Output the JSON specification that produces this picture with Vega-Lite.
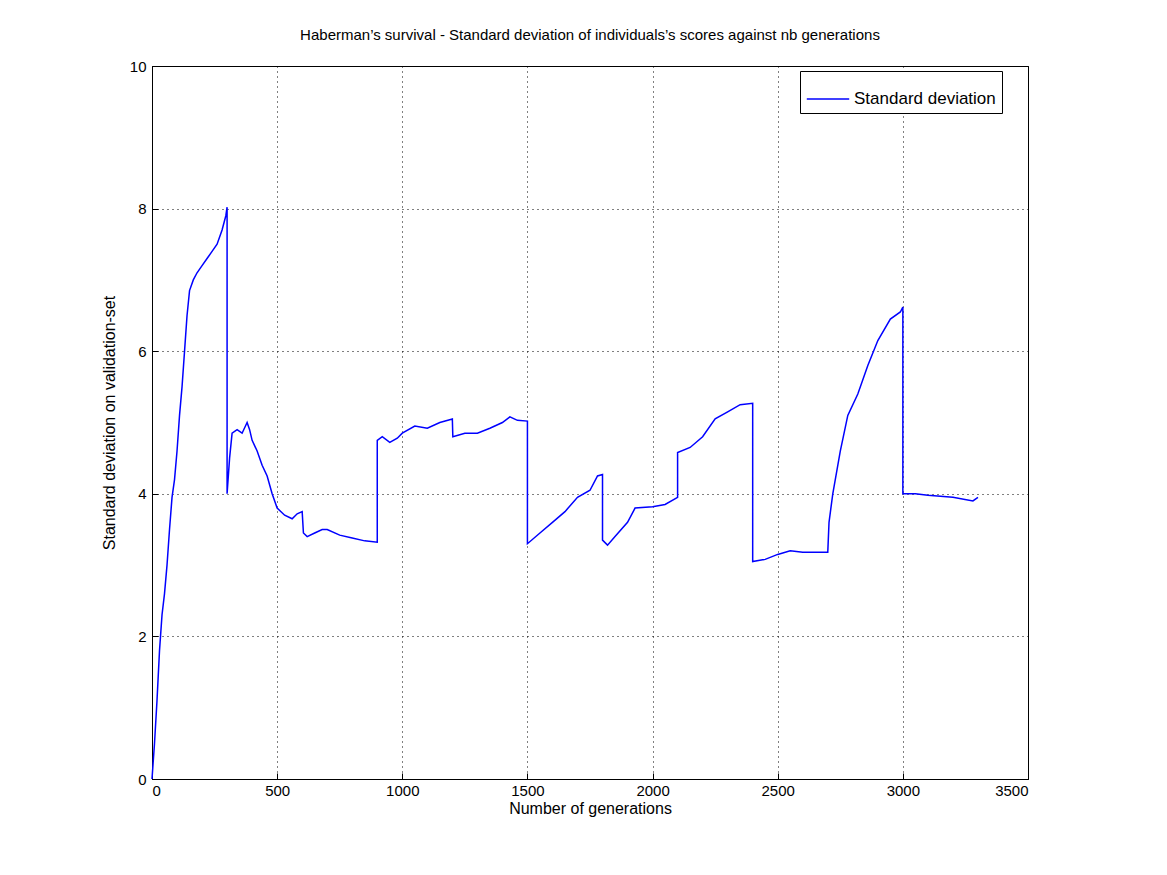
{
  "$schema": "https://vega.github.io/schema/vega-lite/v6.json",
  "width": 876,
  "height": 713,
  "autosize": "none",
  "padding": {"left": 152, "top": 66, "right": 139, "bottom": 96},
  "background": "white",
  "config": {
    "font": "Liberation Sans",
    "view": {"stroke": "black", "strokeWidth": 1},
    "axis": {
      "domainColor": "black", "tickColor": "black", "tickSize": -6, "labelPadding": 12,
      "labelFontSize": 15, "labelColor": "black", "titleFontSize": 16,
      "titleFontWeight": "normal", "titleColor": "black",
      "gridColor": "black", "gridDash": [1, 4], "gridOpacity": 1
    }
  },
  "title": {"text": "Haberman’s survival - Standard deviation of individuals’s scores against nb generations", "fontSize": 15, "fontWeight": "normal", "offset": 16},
  "data": {"values": [
    {"i":1,"x":0,"y":0},{"i":2,"x":10,"y":0.5},{"i":3,"x":20,"y":1.1},{"i":4,"x":30,"y":1.8},{"i":5,"x":40,"y":2.3},{"i":6,"x":50,"y":2.6},{"i":7,"x":60,"y":3.0},{"i":8,"x":70,"y":3.5},{"i":9,"x":80,"y":3.95},{"i":10,"x":90,"y":4.2},{"i":11,"x":100,"y":4.6},{"i":12,"x":110,"y":5.1},{"i":13,"x":120,"y":5.5},{"i":14,"x":130,"y":6.0},{"i":15,"x":140,"y":6.5},{"i":16,"x":150,"y":6.85},{"i":17,"x":165,"y":7.0},{"i":18,"x":180,"y":7.1},{"i":19,"x":200,"y":7.2},{"i":20,"x":220,"y":7.3},{"i":21,"x":240,"y":7.4},{"i":22,"x":260,"y":7.5},{"i":23,"x":280,"y":7.7},{"i":24,"x":295,"y":7.9},{"i":25,"x":300,"y":8.02},
    {"i":26,"x":300,"y":4.0},{"i":27,"x":310,"y":4.5},{"i":28,"x":320,"y":4.85},{"i":29,"x":340,"y":4.9},{"i":30,"x":360,"y":4.85},{"i":31,"x":380,"y":5.0},{"i":32,"x":390,"y":4.9},{"i":33,"x":400,"y":4.75},{"i":34,"x":420,"y":4.6},{"i":35,"x":440,"y":4.4},{"i":36,"x":460,"y":4.25},{"i":37,"x":480,"y":4.0},{"i":38,"x":500,"y":3.8},{"i":39,"x":530,"y":3.7},{"i":40,"x":560,"y":3.65},{"i":41,"x":580,"y":3.72},{"i":42,"x":600,"y":3.75},{"i":43,"x":605,"y":3.45},{"i":44,"x":620,"y":3.4},{"i":45,"x":650,"y":3.45},{"i":46,"x":680,"y":3.5},{"i":47,"x":700,"y":3.5},{"i":48,"x":750,"y":3.42},{"i":49,"x":800,"y":3.38},{"i":50,"x":850,"y":3.34},{"i":51,"x":900,"y":3.32},
    {"i":52,"x":900,"y":4.75},{"i":53,"x":920,"y":4.8},{"i":54,"x":950,"y":4.72},{"i":55,"x":980,"y":4.78},{"i":56,"x":1000,"y":4.85},{"i":57,"x":1050,"y":4.95},{"i":58,"x":1100,"y":4.92},{"i":59,"x":1150,"y":5.0},{"i":60,"x":1200,"y":5.05},{"i":61,"x":1202,"y":4.8},{"i":62,"x":1250,"y":4.85},{"i":63,"x":1300,"y":4.85},{"i":64,"x":1350,"y":4.92},{"i":65,"x":1400,"y":5.0},{"i":66,"x":1430,"y":5.08},{"i":67,"x":1460,"y":5.03},{"i":68,"x":1500,"y":5.02},
    {"i":69,"x":1500,"y":3.3},{"i":70,"x":1550,"y":3.45},{"i":71,"x":1600,"y":3.6},{"i":72,"x":1650,"y":3.75},{"i":73,"x":1700,"y":3.95},{"i":74,"x":1750,"y":4.05},{"i":75,"x":1780,"y":4.25},{"i":76,"x":1800,"y":4.27},
    {"i":77,"x":1800,"y":3.35},{"i":78,"x":1820,"y":3.28},{"i":79,"x":1850,"y":3.4},{"i":80,"x":1900,"y":3.6},{"i":81,"x":1930,"y":3.8},{"i":82,"x":2000,"y":3.82},{"i":83,"x":2050,"y":3.85},{"i":84,"x":2100,"y":3.95},
    {"i":85,"x":2100,"y":4.58},{"i":86,"x":2150,"y":4.65},{"i":87,"x":2200,"y":4.8},{"i":88,"x":2250,"y":5.05},{"i":89,"x":2300,"y":5.15},{"i":90,"x":2350,"y":5.25},{"i":91,"x":2400,"y":5.27},
    {"i":92,"x":2400,"y":3.05},{"i":93,"x":2450,"y":3.08},{"i":94,"x":2500,"y":3.15},{"i":95,"x":2550,"y":3.2},{"i":96,"x":2600,"y":3.18},{"i":97,"x":2650,"y":3.18},{"i":98,"x":2700,"y":3.18},{"i":99,"x":2705,"y":3.6},{"i":100,"x":2720,"y":4.0},{"i":101,"x":2750,"y":4.6},{"i":102,"x":2780,"y":5.1},{"i":103,"x":2820,"y":5.4},{"i":104,"x":2860,"y":5.8},{"i":105,"x":2900,"y":6.15},{"i":106,"x":2950,"y":6.45},{"i":107,"x":2990,"y":6.55},{"i":108,"x":3000,"y":6.62},
    {"i":109,"x":3000,"y":4.0},{"i":110,"x":3050,"y":4.0},{"i":111,"x":3100,"y":3.98},{"i":112,"x":3200,"y":3.95},{"i":113,"x":3280,"y":3.9},{"i":114,"x":3300,"y":3.95}
  ]},
  "mark": {"type": "line", "strokeWidth": 1.5},
  "encoding": {
    "x": {"field": "x", "type": "quantitative", "title": "Number of generations", "scale": {"domain": [0, 3500], "nice": false}, "axis": {"values": [0,500,1000,1500,2000,2500,3000,3500], "format": "d", "labelPadding": 10, "titlePadding": 2}},
    "y": {"field": "y", "type": "quantitative", "title": "Standard deviation on validation-set", "scale": {"domain": [0, 10], "nice": false}, "axis": {"values": [0,2,4,6,8,10], "labelPadding": 12, "titlePadding": 12}},
    "order": {"field": "i"},
    "color": {"datum": "Standard deviation", "type": "nominal", "scale": {"range": ["#0000ff"]},
      "legend": {"title": null, "orient": "none", "legendX": 648, "legendY": 5, "labelFontSize": 17, "labelColor": "black", "symbolType": "stroke", "symbolSize": 1800, "symbolStrokeWidth": 1.5, "strokeColor": "black", "fillColor": "white", "padding": 6}}
  }
}
